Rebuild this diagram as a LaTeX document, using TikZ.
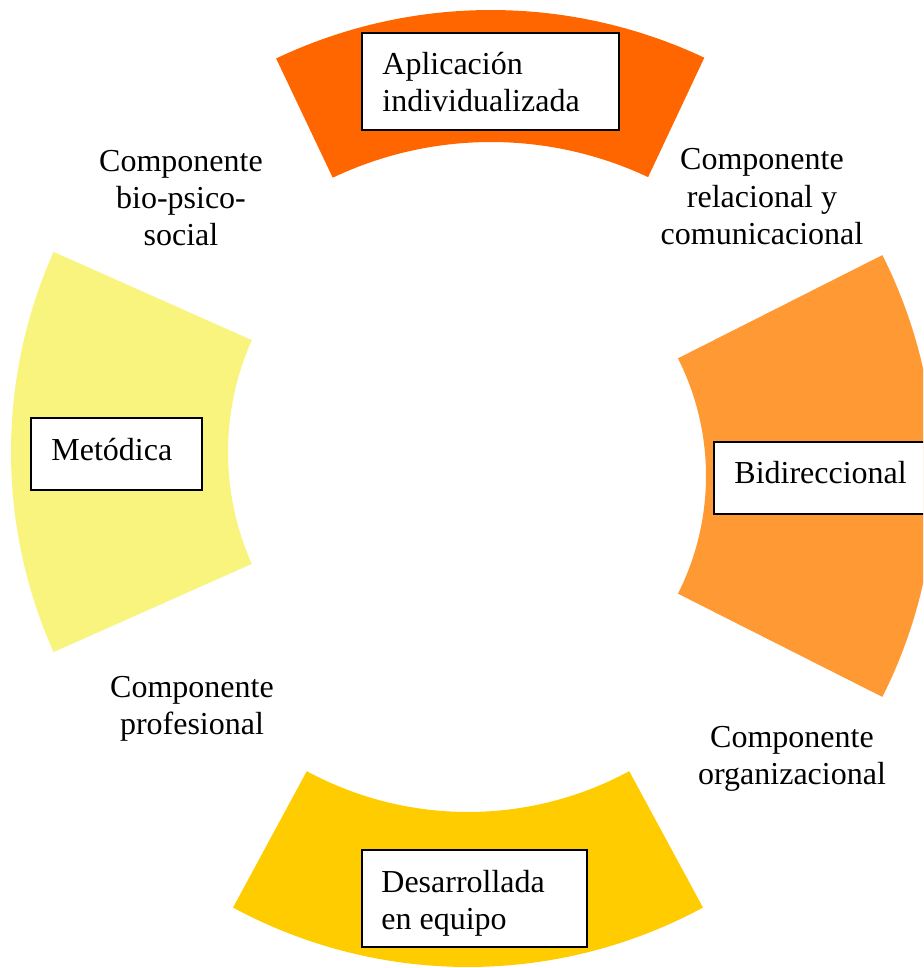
\documentclass[tikz,border=0pt]{standalone}
\usepackage{fontspec}
\setmainfont{Liberation Serif}
\usetikzlibrary{calc,fit}
\definecolor{secTop}{HTML}{FF6600}
\definecolor{secRight}{HTML}{FF9933}
\definecolor{secBottom}{HTML}{FFCC00}
\definecolor{secLeft}{HTML}{F8F47E}
\tikzset{
  boxnode/.style={draw=black, line width=1pt, fill=white, rectangle, inner sep=0pt},
  boxtext/.style={anchor=base west, inner sep=0pt, align=left, font=\fontsize{16}{18.5}\selectfont},
  comptext/.style={anchor=base, inner sep=0pt, align=center, font=\fontsize{16}{18.5}\selectfont},
}
% #1 colour, #2 centre, #3 start angle, #4 end angle, #5 outer radius, #6 inner radius
\newcommand\annsector[6]{%
  \fill[#1] ($(#2)+(#3:#5)$) arc[start angle=#3, end angle=#4, radius=#5]
    -- ($(#2)+(#4:#6)$) arc[start angle=#4, end angle=#3, radius=#6] -- cycle;}
\begin{document}
\begin{tikzpicture}[x=0.5pt,y=0.5pt]
\clip (0,0) rectangle (923,-968);
\fill[white] (0,0) rectangle (923,-968);
% centres of the four arcs
\coordinate (cTop) at (491,-511);
\coordinate (cLeft) at (503,-452);
\coordinate (cRight) at (445,-476);
\coordinate (cBottom) at (468,-473);
% annular sectors
\annsector{secTop}{cTop}{64.8}{115.4}{501}{369}
\annsector{secLeft}{cLeft}{156}{204}{492}{275}
\annsector{secRight}{cRight}{-26.8}{26.8}{490}{261}
\annsector{secBottom}{cBottom}{241.6}{298.4}{494}{339}
% boxes
\node[boxnode, fit={(362,-33) (619,-130)}] (bTop) {};
\node[boxnode, fit={(31,-418) (202,-490)}] (bLeft) {};
\node[boxnode, fit={(714,-442) (960,-514)}] (bRight) {};
\node[boxnode, fit={(362,-850) (587,-947)}] (bBottom) {};
% (base anchor of a multi-line node = baseline of its last line)
\node[boxtext] (tTop) at ($(bTop.north west)+(21,-80)$) {Aplicación\\individualizada};
\node[boxtext] (tLeft) at ($(bLeft.north west)+(21,-43)$) {Metódica};
\node[boxtext] (tRight) at ($(bRight.north west)+(21,-42)$) {Bidireccional};
\node[boxtext] (tBottom) at ($(bBottom.north west)+(20,-80)$) {Desarrollada\\en equipo};
% component labels
\node[comptext] (c1) at (181,-246) {Componente\\bio-psico-\\social};
\node[comptext] (c2) at (762,-244) {Componente\\relacional y\\comunicacional};
\node[comptext] (c3) at (192,-734) {Componente\\profesional};
\node[comptext] (c4) at (792,-784) {Componente\\organizacional};
\end{tikzpicture}
\end{document}
